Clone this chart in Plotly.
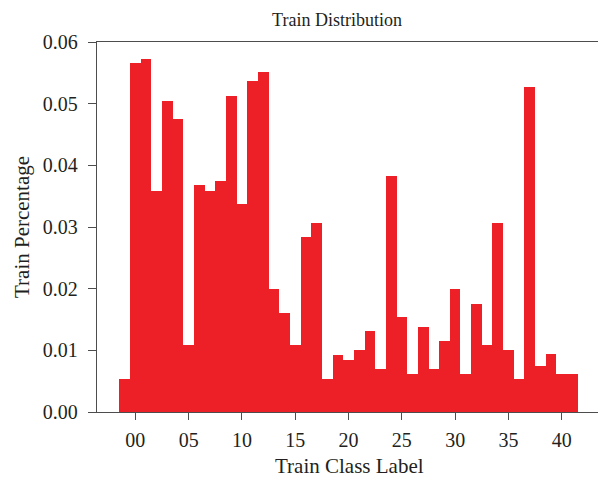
import plotly.graph_objects as go

class_labels = list(range(-1, 42))
train_pct = [0.0053, 0.0566, 0.0572, 0.0359, 0.0504, 0.0475, 0.0108, 0.0368, 0.0359,
             0.0375, 0.0513, 0.0337, 0.0536, 0.0551, 0.0199, 0.0160, 0.0108, 0.0283,
             0.0306, 0.0053, 0.0093, 0.0085, 0.0100, 0.0131, 0.0069, 0.0382, 0.0154,
             0.0062, 0.0138, 0.0069, 0.0115, 0.0199, 0.0062, 0.0175, 0.0108, 0.0306,
             0.0100, 0.0053, 0.0527, 0.0075, 0.0094, 0.0062, 0.0062]
x_tickvals = [0, 5, 10, 15, 20, 25, 30, 35, 40]
x_ticktext = ["00", "05", "10", "15", "20", "25", "30", "35", "40"]
y_tickvals = [0.0, 0.01, 0.02, 0.03, 0.04, 0.05, 0.06]
y_ticktext = ["0.00", "0.01", "0.02", "0.03", "0.04", "0.05", "0.06"]

FONT = "Liberation Serif, Times New Roman, serif"
TXT = "#231F20"

fig = go.Figure(go.Bar(
    x=class_labels, y=train_pct, width=1,
    marker=dict(color="#ED1F27", line=dict(width=0)),
    hoverinfo="skip",
))

W, H = 598, 482
fig.update_layout(
    width=W, height=H,
    margin=dict(l=97, r=0, t=42, b=70, autoexpand=False),
    paper_bgcolor="white", plot_bgcolor="white",
    bargap=0, showlegend=False,
    font=dict(family=FONT, size=18, color=TXT),
    title=dict(text="Train Distribution", x=337 / W, xanchor="center",
               y=1 - 20 / H, yanchor="middle",
               font=dict(family=FONT, size=18, color=TXT)),
    annotations=[
        dict(text="Train Class Label", xref="paper", yref="paper",
             x=(349 - 97) / (W - 97), y=-(466 - 412) / 370,
             xanchor="center", yanchor="middle", showarrow=False,
             font=dict(family=FONT, size=21, color=TXT)),
        dict(text="Train Percentage", xref="paper", yref="paper",
             x=-(97 - 22) / (W - 97), y=(412 - 227) / 370, textangle=-90,
             xanchor="center", yanchor="middle", showarrow=False,
             font=dict(family=FONT, size=21, color=TXT)),
    ],
)
fig.update_xaxes(
    range=[-3.6, 43.4], tickvals=x_tickvals, ticktext=x_ticktext,
    showgrid=False, zeroline=False, automargin=False,
    showline=True, linecolor="#4D4D4D", linewidth=1.3, mirror=True,
    ticks="outside", ticklen=7, tickwidth=1.2, tickcolor="#4D4D4D",
    ticklabelstandoff=3,
    tickfont=dict(family=FONT, size=20, color=TXT),
)
fig.update_yaxes(
    range=[0, 0.06], tickvals=y_tickvals, ticktext=y_ticktext,
    showgrid=False, zeroline=False, automargin=False,
    showline=True, linecolor="#4D4D4D", linewidth=1.3, mirror=False,
    ticks="outside", ticklen=8, tickwidth=1.2, tickcolor="#4D4D4D",
    ticklabelstandoff=6,
    tickfont=dict(family=FONT, size=20, color=TXT),
)

fig.write_html("out.html", config={"displayModeBar": False},
               post_script="document.body.style.margin='0';document.body.style.overflow='hidden';")
